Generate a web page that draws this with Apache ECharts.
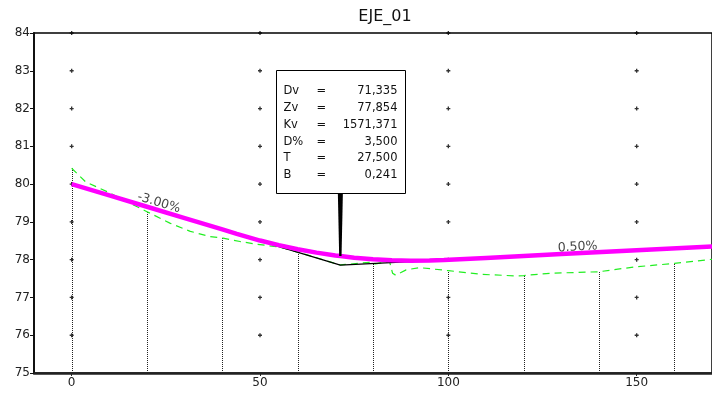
<!DOCTYPE html>
<html>
<head>
<meta charset="utf-8">
<script src="https://cdn.jsdelivr.net/npm/echarts@6/dist/echarts.min.js"></script>
<style>html,body{margin:0;padding:0;background:#fff}#c{width:712px;height:395px}</style>
</head>
<body>
<div id="c"></div>
<script>
// ---- data ----
const TITLE = 'EJE_01';
const xLabelValues = [0, 50, 100, 150];
const yMin = 75, yMax = 84;
const xMin = -10, xMax = 170;

// design grade (rasante) - magenta
const rasX = [0, 10, 20, 30, 40, 43.835, 50, 55, 60, 65, 70, 71.335, 75, 80, 85, 90, 95, 98.835, 110, 130, 150, 170];
const rasY = [80.000, 79.700, 79.400, 79.100, 78.800, 78.685, 78.506, 78.384, 78.277, 78.187, 78.112, 78.095, 78.053, 78.010, 77.983, 77.972, 77.977, 77.992, 78.047, 78.147, 78.247, 78.347];

// tangent polyline - black
const tanX = [0, 71.335, 170];
const tanY = [80.000, 77.854, 78.347];

// terrain - green dashed
const terX = [0, 3.7, 9.4, 17.4, 20, 26.2, 31.5, 36.8, 40.2, 44.7, 49.1, 55.3, 60, 65, 71.3, 79, 80.2, 84.4, 85.2, 86, 88.8, 92.3, 100, 109, 118, 120, 127, 140, 149.6, 160, 170];
const terY = [80.42, 80.06, 79.80, 79.40, 79.27, 78.96, 78.75, 78.61, 78.57, 78.48, 78.41, 78.33, 78.20, 78.05, 77.86, 77.93, 77.88, 77.95, 77.64, 77.59, 77.73, 77.79, 77.71, 77.61, 77.57, 77.58, 77.64, 77.68, 77.81, 77.90, 78.01];

// station verticals
const stX = [0, 20, 40, 60, 80, 100, 120, 140, 160];
const stTop = [80.42, 79.27, 78.57, 78.20, 77.90, 77.71, 77.58, 77.68, 77.90];

// grade labels
const gradeText = ['-3.00%', '0.50%'];
const gradeX = [22.6, 134.4];
const gradeY = [79.322, 78.147];

// grid markers
const markerX = [0, 50, 100, 150];
const markerY = [76, 77, 78, 79, 80, 81, 82, 83, 84];

// vertical curve info
const piX = 71.335, piY = 78.095;
const infoLabels = ['Dv', 'Zv', 'Kv', 'D%', 'T', 'B'];
const infoValues = ['71,335', '77,854', '1571,371', '3,500', '27,500', '0,241'];

// ---- chart ----
const FONT = 'DejaVu Sans';
const chart = echarts.init(document.getElementById('c'), null, {renderer: 'canvas'});

const zip = (a, b) => a.map((v, i) => [v, b[i]]);
const markers = [];
markerX.forEach(x => markerY.forEach(y => markers.push([x, y])));

const option = {
  animation: false,
  backgroundColor: '#fff',
  title: {
    text: TITLE, left: 385, top: 9, padding: 0, textAlign: 'center',
    textStyle: {fontFamily: FONT, fontSize: 16, fontWeight: 'normal', color: '#111'}
  },
  grid: {left: 34, top: 33, right: -2, bottom: 22, show: true, borderColor: '#000', borderWidth: 1.5, backgroundColor: 'transparent'},
  xAxis: {
    type: 'value', min: xMin, max: xMax,
    axisLine: {show: true, onZero: false, lineStyle: {color: '#222', width: 2.5}},
    axisTick: {show: true, length: 3, customValues: xLabelValues, lineStyle: {color: '#222'}},
    axisLabel: {customValues: xLabelValues, fontFamily: FONT, fontSize: 12, color: '#222', margin: 4},
    splitLine: {show: false}
  },
  yAxis: {
    type: 'value', min: yMin, max: yMax, interval: 1,
    axisLine: {show: true, onZero: false, lineStyle: {color: '#111', width: 2}},
    axisTick: {show: true, length: 4, lineStyle: {color: '#111'}},
    axisLabel: {fontFamily: FONT, fontSize: 12, color: '#222', margin: 4},
    splitLine: {show: false}
  },
  series: [
    {
      type: 'custom', z: 1, silent: true,
      data: zip(stX, stTop),
      renderItem: (params, api) => {
        const x = api.value(0), t = api.value(1);
        const p0 = api.coord([x, yMin]);
        const p1 = api.coord([x, t]);
        const px = Math.round(p0[0]) + 0.5;
        return {type: 'line', shape: {x1: px, y1: p0[1], x2: px, y2: p1[1]},
          style: {stroke: '#222', lineWidth: 1, lineDash: [1, 1]}};
      }
    },
    {
      type: 'scatter', z: 2, silent: true, data: markers,
      symbol: 'path://M1,0h1v3h-1zM0,1h3v1h-3z', symbolSize: 4,
      itemStyle: {color: '#000'}
    },
    {
      type: 'line', z: 3, data: zip(terX, terY), showSymbol: false, smooth: false,
      lineStyle: {color: '#22ee22', width: 1.2, type: [7, 5]}
    },
    {
      type: 'line', z: 4, data: zip(tanX, tanY), showSymbol: false,
      lineStyle: {color: '#000', width: 1.2}
    },
    {
      type: 'line', z: 5, data: zip(rasX, rasY), showSymbol: false, smooth: false,
      lineStyle: {color: '#ff00ff', width: 4.5}
    },
    {
      type: 'scatter', z: 6, silent: true, symbolSize: 0,
      data: gradeText.map((t, i) => ({value: [gradeX[i], gradeY[i]], name: t, rot: i === 0 ? -16.7 : 3})),
      label: {
        show: true, position: 'inside', formatter: p => p.name,
        fontFamily: FONT, fontSize: 12.5, color: '#111', offset: [0, -7]
      }
    }
  ]
};
option.series[5].data.forEach(d => { d.label = {rotate: d.rot}; });
chart.setOption(option);

// info box anchored at PI
const p = chart.convertToPixel({gridIndex: 0}, [piX, piY]);
const boxW = 129, boxH = 123, gap = 63;
const bx = Math.round(p[0] - boxW / 2) + 0.5;
const by = Math.round(p[1] - gap - boxH) + 0.5;
const els = [
  {type: 'polygon', z: 10, shape: {points: [[p[0] - 2.5, by + boxH], [p[0] + 2.5, by + boxH], [p[0] + 1.2, p[1]], [p[0] - 1.2, p[1]]]}, style: {fill: '#000'}},
  {type: 'rect', z: 11, shape: {x: bx, y: by, width: boxW, height: boxH}, style: {fill: '#fff', stroke: '#000', lineWidth: 1}}
];
infoLabels.forEach((l, i) => {
  const ty = by + 21 + i * 16.7;
  const st = {fontFamily: FONT, fontSize: 11.5, fill: '#111', verticalAlign: 'middle'};
  els.push({type: 'text', z: 12, x: bx + 7, y: ty, style: Object.assign({text: l, align: 'left'}, st)});
  els.push({type: 'text', z: 12, x: bx + 40, y: ty, style: Object.assign({text: '=', align: 'left'}, st)});
  els.push({type: 'text', z: 12, x: bx + boxW - 8, y: ty, style: Object.assign({text: infoValues[i], align: 'right'}, st)});
});
chart.setOption({graphic: {elements: els}});
</script>
</body>
</html>
